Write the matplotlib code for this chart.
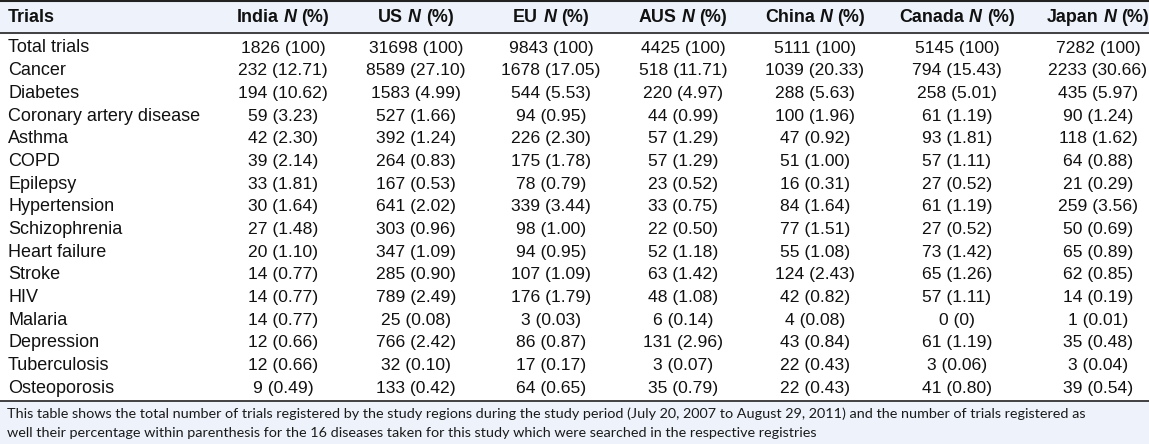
import matplotlib
matplotlib.use("Agg")
import matplotlib.pyplot as plt
from matplotlib.patches import Rectangle

# ---- data ----
regions = ["India", "US", "EU", "AUS", "China", "Canada", "Japan"]
diseases = ["Total trials", "Cancer", "Diabetes", "Coronary artery disease", "Asthma",
            "COPD", "Epilepsy", "Hypertension", "Schizophrenia", "Heart failure",
            "Stroke", "HIV", "Malaria", "Depression", "Tuberculosis", "Osteoporosis"]
india = ["1826 (100)", "232 (12.71)", "194 (10.62)", "59 (3.23)", "42 (2.30)", "39 (2.14)",
         "33 (1.81)", "30 (1.64)", "27 (1.48)", "20 (1.10)", "14 (0.77)", "14 (0.77)",
         "14 (0.77)", "12 (0.66)", "12 (0.66)", "9 (0.49)"]
us = ["31698 (100)", "8589 (27.10)", "1583 (4.99)", "527 (1.66)", "392 (1.24)", "264 (0.83)",
      "167 (0.53)", "641 (2.02)", "303 (0.96)", "347 (1.09)", "285 (0.90)", "789 (2.49)",
      "25 (0.08)", "766 (2.42)", "32 (0.10)", "133 (0.42)"]
eu = ["9843 (100)", "1678 (17.05)", "544 (5.53)", "94 (0.95)", "226 (2.30)", "175 (1.78)",
      "78 (0.79)", "339 (3.44)", "98 (1.00)", "94 (0.95)", "107 (1.09)", "176 (1.79)",
      "3 (0.03)", "86 (0.87)", "17 (0.17)", "64 (0.65)"]
aus = ["4425 (100)", "518 (11.71)", "220 (4.97)", "44 (0.99)", "57 (1.29)", "57 (1.29)",
       "23 (0.52)", "33 (0.75)", "22 (0.50)", "52 (1.18)", "63 (1.42)", "48 (1.08)",
       "6 (0.14)", "131 (2.96)", "3 (0.07)", "35 (0.79)"]
china = ["5111 (100)", "1039 (20.33)", "288 (5.63)", "100 (1.96)", "47 (0.92)", "51 (1.00)",
         "16 (0.31)", "84 (1.64)", "77 (1.51)", "55 (1.08)", "124 (2.43)", "42 (0.82)",
         "4 (0.08)", "43 (0.84)", "22 (0.43)", "22 (0.43)"]
canada = ["5145 (100)", "794 (15.43)", "258 (5.01)", "61 (1.19)", "93 (1.81)", "57 (1.11)",
          "27 (0.52)", "61 (1.19)", "27 (0.52)", "73 (1.42)", "65 (1.26)", "57 (1.11)",
          "0 (0)", "61 (1.19)", "3 (0.06)", "41 (0.80)"]
japan = ["7282 (100)", "2233 (30.66)", "435 (5.97)", "90 (1.24)", "118 (1.62)", "64 (0.88)",
         "21 (0.29)", "259 (3.56)", "50 (0.69)", "65 (0.89)", "62 (0.85)", "14 (0.19)",
         "1 (0.01)", "35 (0.48)", "3 (0.04)", "39 (0.54)"]
columns = [india, us, eu, aus, china, canada, japan]
footnote = ["This table shows the total number of trials registered by the study regions during the study period (July 20, 2007 to August 29, 2011) and the number of trials registered as",
            "well their percentage within parenthesis for the 16 diseases taken for this study which were searched in the respective registries"]

# ---- layout (pixels) ----
W, H = 1149, 444
col_centers = [283, 416, 551, 683, 815, 957, 1098]
label_x = 8
header_y = 17
row_y0, row_dy = 48, 22.67
fs_label = 13.0
fs_num = 12.6
fs_head = 12.9
head_bg = "#eef3fb"
foot_bg = "#eef3fb"
line_c = "#222222"
txt_c = "#111111"

fig = plt.figure(figsize=(W / 100, H / 100), dpi=100)
ax = fig.add_axes([0, 0, 1, 1])
ax.set_xlim(0, W)
ax.set_ylim(H, 0)
ax.axis("off")

# backgrounds and rules
ax.add_patch(Rectangle((0, 0), W, 33, color=head_bg, zorder=0))
ax.add_patch(Rectangle((0, 401), W, H - 401, color=foot_bg, zorder=0))
ax.plot([0, W], [0.8, 0.8], color=line_c, lw=1.5)
ax.plot([0, W], [33, 33], color=line_c, lw=1.2)
ax.plot([0, W], [401, 401], color=line_c, lw=1.2)

fig.canvas.draw()
r = fig.canvas.get_renderer()


def width_px(s, size, family="Liberation Sans", **kw):
    t = ax.text(0, 0, s, fontsize=size, family=family, **kw)
    bb = t.get_window_extent(renderer=r)
    t.remove()
    return bb.width


space_w = width_px("a a", fs_head, weight="bold") - width_px("aa", fs_head, weight="bold")

# header
ax.text(label_x, header_y, "Trials", fontsize=fs_head, family="Liberation Sans", weight="bold",
        color=txt_c, ha="left", va="center")
for name, cx in zip(regions, col_centers):
    parts = [(name, "normal"), ("N", "italic"), ("(%)", "normal")]
    ws = [width_px(p, fs_head, weight="bold", style=st) for p, st in parts]
    total = sum(ws) + 2 * space_w
    x = cx - total / 2
    for (p, st), w in zip(parts, ws):
        ax.text(x, header_y, p, fontsize=fs_head, family="Liberation Sans", weight="bold",
                style=st, color=txt_c, ha="left", va="center")
        x += w + space_w

# body
for i, d in enumerate(diseases):
    y = row_y0 + i * row_dy
    ax.text(label_x, y, d, fontsize=fs_label, family="Liberation Sans", color=txt_c,
            ha="left", va="center")
    for col, cx in zip(columns, col_centers):
        ax.text(cx, y, col[i], fontsize=fs_num, family="Liberation Sans", color=txt_c,
                ha="center", va="center")

# footnote, sized so the first line spans the same width as the reference
target_w = 1081
foot_fs = 10.0
foot_fs = foot_fs * target_w / width_px(footnote[0], foot_fs, family="Lato")
for j, line in enumerate(footnote):
    ax.text(7, 414 + j * 18.5, line, fontsize=foot_fs, family="Lato", color="#1a1a1a",
            ha="left", va="center")

fig.savefig("out.png", dpi=100, facecolor="white")
